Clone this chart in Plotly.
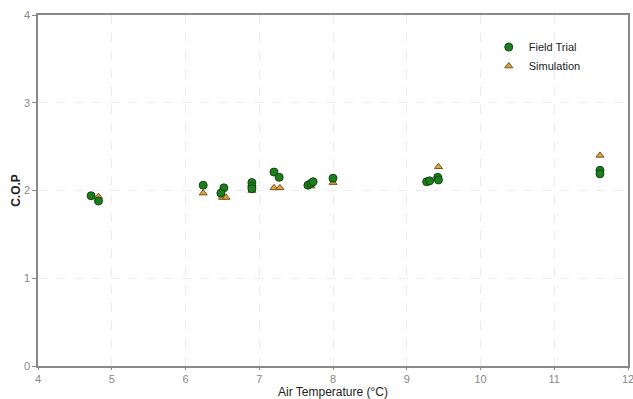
import plotly.graph_objects as go

field_x = [4.72, 4.82, 6.24, 6.52, 6.48, 6.90, 6.90, 6.90, 7.20, 7.27, 7.66, 7.70, 7.73, 8.00, 9.27, 9.31, 9.42, 9.43, 11.62, 11.62]
field_y = [1.94, 1.88, 2.06, 2.03, 1.97, 2.09, 2.05, 2.02, 2.21, 2.15, 2.06, 2.08, 2.10, 2.14, 2.10, 2.11, 2.15, 2.12, 2.23, 2.19]
sim_x = [4.82, 6.24, 6.50, 6.55, 6.90, 7.20, 7.28, 7.70, 8.00, 9.43, 11.62]
sim_y = [1.93, 1.97, 1.92, 1.92, 2.00, 2.03, 2.03, 2.05, 2.09, 2.27, 2.40]

x_ticks = [4, 5, 6, 7, 8, 9, 10, 11, 12]
y_ticks = [0, 1, 2, 3, 4]

fig = go.Figure()
fig.add_trace(go.Scatter(
    x=sim_x, y=sim_y, mode="markers", name="Simulation", legendrank=2,
    marker=dict(symbol="triangle-up", size=7, color="#d9a441",
                line=dict(color="#7a5418", width=1)),
))
fig.add_trace(go.Scatter(
    x=field_x, y=field_y, mode="markers", name="Field Trial", legendrank=1,
    marker=dict(symbol="circle", size=8, color="#1e7d1e",
                line=dict(color="#0d4a0d", width=1)),
))

axis_common = dict(
    showline=True, linecolor="#888888", linewidth=1.5, mirror=True,
    showgrid=True, gridcolor="#ececec", griddash="dash", gridwidth=1,
    zeroline=False, ticks="outside", tickcolor="#888888",
    automargin=False, ticklabeloverflow="allow",
    tickfont=dict(family="Liberation Sans, Arial", size=11, color="#888888"),
)

fig.update_xaxes(
    range=[4, 12], tickvals=x_ticks, ticktext=[str(v) for v in x_ticks],
    ticklen=2,
    title=dict(text="Air Temperature (°C)", standoff=2,
               font=dict(family="Liberation Sans, Arial", size=12, color="#222222")),
    **axis_common,
)
fig.update_yaxes(
    range=[0, 4], tickvals=y_ticks, ticktext=[str(v) for v in y_ticks],
    ticklen=4,
    title=dict(text="<b>C.O.P</b>", standoff=1,
               font=dict(family="Liberation Sans, Arial", size=12, color="#222222")),
    **axis_common,
)

fig.update_layout(
    width=633, height=399,
    margin=dict(l=38, r=5, t=15, b=33),
    plot_bgcolor="white", paper_bgcolor="white",
    showlegend=True,
    legend=dict(x=0.764, y=0.95, xanchor="left", yanchor="top",
                bgcolor="rgba(0,0,0,0)", tracegroupgap=0, itemwidth=30,
                font=dict(family="Liberation Sans, Arial", size=11, color="#222222")),
)

fig.write_html(
    "out.html",
    config={"displayModeBar": False},
    post_script="document.body.style.margin='0';document.body.style.overflow='hidden';",
)
